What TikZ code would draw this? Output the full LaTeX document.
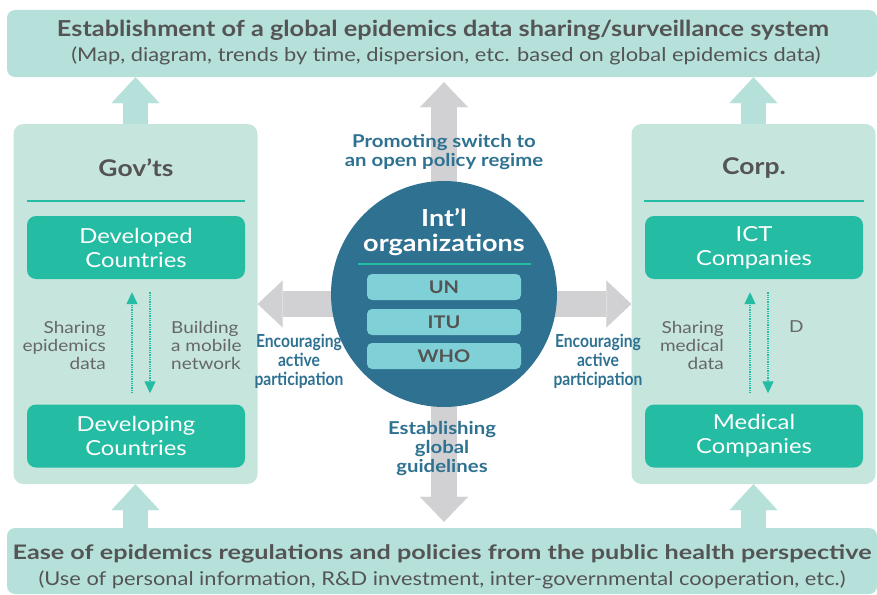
\documentclass[tikz,border=0pt]{standalone}
\usepackage{fontspec}
\setmainfont{Lato}[FakeStretch=1.15]
\newfontfamily\condfont[FakeStretch=0.87]{Lato}
\newfontfamily\banfont[FakeStretch=1.26]{Lato}
\usepackage{tikz}
\usetikzlibrary{arrows.meta,backgrounds,calc,positioning}

\definecolor{bannermint}{HTML}{B5E1DA}
\definecolor{panelmint}{HTML}{C6E6DD}
\definecolor{tealbox}{HTML}{25BCA4}
\definecolor{orgblue}{HTML}{2E7191}
\definecolor{arrowgray}{HTML}{D1D1D3}
\definecolor{orgcyan}{HTML}{80D1D7}
\definecolor{darktext}{HTML}{545454}
\definecolor{softtext}{HTML}{666666}

\tikzset{
  banner/.style={fill=bannermint, rounded corners=8pt, inner sep=0pt, minimum width=870pt},
  panel/.style={fill=panelmint, rounded corners=10pt, inner sep=0pt, minimum width=244pt, minimum height=360pt},
  member/.style={fill=tealbox, rounded corners=9pt, inner sep=0pt, minimum width=218pt, minimum height=63pt,
    text=white, align=center, font=\fontsize{20.7}{24}\selectfont},
  orgbox/.style={fill=orgcyan, rounded corners=5pt, inner sep=0pt, minimum width=154pt, minimum height=26pt,
    text=darktext, font=\bfseries\fontsize{17.4}{20}\selectfont},
  flowtext/.style={text=softtext, inner sep=0pt, font=\fontsize{16.5}{18}\selectfont},
  roletext/.style={text=orgblue, align=center, inner sep=0pt, font=\bfseries\fontsize{17.7}{19}\selectfont},
  encourage/.style={roletext, font=\condfont\bfseries\fontsize{18}{19}\selectfont},
  headtext/.style={text=darktext, inner sep=0pt},
  mintarrow/.style={draw=bannermint, line width=25pt, -{Triangle[width=48pt,length=26pt,line width=0.1pt]}},
  grayarrow/.style={draw=arrowgray, line width=26pt,
    {Triangle[width=48pt,length=25pt,line width=0.1pt]}-{Triangle[width=48pt,length=25pt,line width=0.1pt]}},
  sidearrow/.style={draw=arrowgray, line width=26pt, -{Triangle[width=47pt,length=25pt,line width=0.1pt]}},
  dotarrow/.style={draw=tealbox, line width=1.3pt, densely dotted, -{Triangle[width=11pt,length=12pt]}}
}

\begin{document}
\begin{tikzpicture}[x=1pt,y=-1pt]
\useasboundingbox (0,0) rectangle (877,594);

\node[banner, minimum height=67pt] (topb) at (442,43.5) {};
\node[headtext, font=\bfseries\fontsize{22}{24}\selectfont] (toptitle) at (443,30)
  {Establishment of a global epidemics data sharing/surveillance system};
\node[headtext, font=\fontsize{19}{20}\selectfont] (topsub) at (446,56)
  {(Map, diagram, trends by time, dispersion, etc. based on global epidemics data)};

\node[banner, minimum height=66pt] (botb) at (442,561) {};
\node[headtext, font=\banfont\bfseries\fontsize{20}{24}\selectfont] (bottitle) at (442,554)
  {Ease of epidemics regulations and policies from the public health perspective};
\node[headtext, font=\fontsize{19}{20}\selectfont] (botsub) at (442,580)
  {(Use of personal information, R\&D investment, inter-governmental cooperation, etc.)};

\node[panel] (gov) at (135.5,304) {};
\node[headtext, font=\bfseries\fontsize{23}{26}\selectfont] (govtitle) at (136,168) {Gov’ts};
\draw[tealbox, line width=2.5pt] ($(gov.north west)+(14,77)$) -- ($(gov.north east)+(-13,77)$);
\node[member] (developed) at (136,247.5) {Developed\\Countries};
\node[member] (developing) at (136,436) {Developing\\Countries};
\node[flowtext, anchor=east, align=right] (shareepi) at (106,345) {Sharing\\epidemics\\data};
\node[flowtext, anchor=west, align=left] (mobile) at (171,345) {Building\\a mobile\\network};
\draw[dotarrow, shorten <=11pt, shorten >=13pt] ([xshift=-4pt]developing.north) -- ([xshift=-4pt]developed.south);
\draw[dotarrow, shorten <=13pt, shorten >=11pt] ([xshift=14pt]developed.south) -- ([xshift=14pt]developing.north);

\node[panel] (corp) at (753.5,304) {};
\node[headtext, font=\bfseries\fontsize{23}{26}\selectfont] (corptitle) at (754,168) {Corp.};
\draw[tealbox, line width=2.5pt] ($(corp.north west)+(13,77)$) -- ($(corp.north east)+(-12,77)$);
\node[member] (ict) at (754,247.5) {ICT\\Companies};
\node[member] (medical) at (754,436) {Medical\\Companies};
\node[flowtext, anchor=east, align=right] (sharemed) at (724,345) {Sharing\\medical\\data};
\node[flowtext, anchor=west] (dlabel) at (789,327) {D};
\draw[dotarrow, shorten <=11pt, shorten >=13pt] ([xshift=-4pt]medical.north) -- ([xshift=-4pt]ict.south);
\draw[dotarrow, shorten <=13pt, shorten >=11pt] ([xshift=14pt]ict.south) -- ([xshift=14pt]medical.north);

\node[circle, fill=orgblue, inner sep=0pt, minimum size=226pt] (org) at (444,294) {};
\node[text=white, align=center, inner sep=0pt, font=\bfseries\fontsize{23.5}{25}\selectfont] (orgtitle) at (444,232)
  {Int’l\\organizations};
\draw[tealbox, line width=2.5pt] ($(org.center)+(-86,-30)$) -- ($(org.center)+(87,-30)$);
\node[orgbox] (un) at (444,287) {UN};
\node[orgbox] (itu) at (444,322) {ITU};
\node[orgbox] (who) at (444,356) {WHO};

\node[roletext] (promote) at (444,152) {Promoting switch to\\an open policy regime};
\node[roletext] (guide) at (442,449) {Establishing\\global\\guidelines};
\node[encourage] (encleft) at (299,361) {Encouraging\\active\\participation};
\node[encourage] (encright) at (598,361) {Encouraging\\active\\participation};

\begin{scope}[on background layer]
\draw[mintarrow] (gov.north) -- (gov.north |- topb.south);
\draw[mintarrow] (corp.north) -- (corp.north |- topb.south);
\draw[mintarrow] (gov.south |- botb.north) -- (gov.south);
\draw[mintarrow] (corp.south |- botb.north) -- (corp.south);
\draw[grayarrow, shorten <=5pt, shorten >=6pt] (org.center |- topb.south) -- (org.center |- botb.north);
\draw[sidearrow] (org.center |- gov.east) -- (gov.east);
\draw[sidearrow] (org.center |- corp.west) -- (corp.west);
\end{scope}
\end{tikzpicture}
\end{document}
